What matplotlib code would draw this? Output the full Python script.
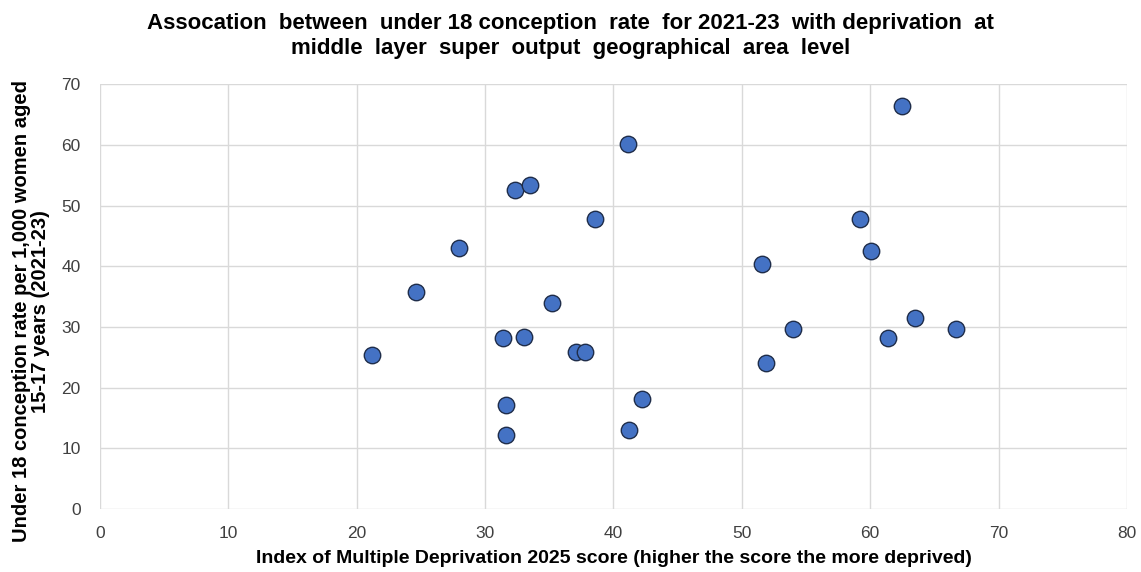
import matplotlib
matplotlib.use("Agg")
import matplotlib.pyplot as plt

plt.rcParams['font.family'] = ['Liberation Sans', 'DejaVu Sans']

imd_score = [21.2, 24.6, 28.0, 31.4, 33.0, 32.3, 33.5, 38.6, 35.2, 37.1, 37.8,
             31.6, 31.6, 42.2, 41.2, 41.1,
             62.5, 59.2, 60.1, 51.6, 54.0, 51.9, 61.4, 63.5, 66.7]
conception_rate = [25.3, 35.8, 43.0, 28.1, 28.3, 52.6, 53.3, 47.8, 33.9, 25.9, 25.9,
                   17.1, 12.2, 18.2, 13.0, 60.1,
                   66.4, 47.8, 42.5, 40.4, 29.7, 24.0, 28.1, 31.4, 29.7]

x_ticks = [0, 10, 20, 30, 40, 50, 60, 70, 80]
y_ticks = [0, 10, 20, 30, 40, 50, 60, 70]

title = ("Assocation  between  under 18 conception  rate  for 2021-23  with deprivation  at\n"
         "middle  layer  super  output  geographical  area  level")
xlabel = "Index of Multiple Deprivation 2025 score (higher the score the more deprived)"
ylabel = "Under 18 conception rate per 1,000 women aged\n15-17 years (2021-23)"

fig = plt.figure(figsize=(11.41, 5.72), dpi=100)
ax = fig.add_axes([0.0876, 0.110, 0.9001, 0.743])

ax.scatter(imd_score, conception_rate, s=140, color='#4472C4',
           edgecolor='#1F2D4A', linewidth=1.0, zorder=3)

ax.set_xlim(0, 80)
ax.set_ylim(0, 70)
ax.set_xticks(x_ticks)
ax.set_yticks(y_ticks)
ax.grid(True, color='#D9D9D9', linewidth=1.0, zorder=0)
ax.set_axisbelow(True)
for s in ax.spines.values():
    s.set_visible(False)
ax.tick_params(length=0, labelsize=12.5, colors='#404040')
ax.tick_params(axis='x', pad=12)
ax.tick_params(axis='y', pad=14)

ax.set_xlabel(xlabel, fontsize=14, fontweight='bold', labelpad=7)
ax.set_ylabel(ylabel, fontsize=14.5, fontweight='bold', labelpad=8, linespacing=1.0)
ax.yaxis.set_label_coords(-0.049, 0.465)
fig.suptitle(title, fontsize=16, fontweight='bold', y=0.978, linespacing=1.3)

fig.savefig("out.png", dpi=100, facecolor='white')
